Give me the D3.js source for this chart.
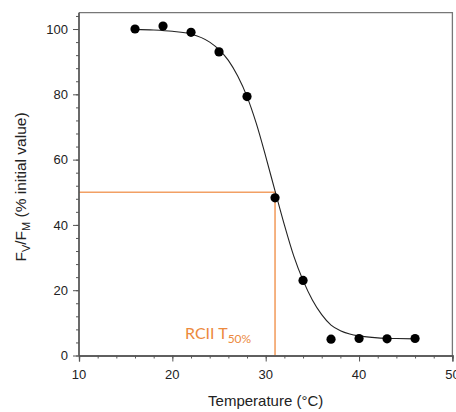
<!DOCTYPE html>
<html><head><meta charset="utf-8">
<script src="https://cdn.jsdelivr.net/npm/d3@7"></script>
<style>body{margin:0;background:#fff}svg{display:block}</style></head><body>
<svg id="c" width="456" height="412"></svg>
<script>
// Measured data points
const tempC = [16, 19, 22, 25, 28, 31, 34, 37, 40, 43, 46];
const fvfm  = [100, 100.9, 99, 93, 79.3, 48.3, 23, 5, 5.2, 5.1, 5.2];
// Fitted curve
const fitT = [16, 18, 20, 22, 24, 25, 26, 27, 28, 29, 30, 31, 32, 33, 34, 35, 36, 37, 38, 39, 40, 42, 44, 46];
const fitY = [99.9, 99.7, 99.3, 98.5, 96, 93.7, 90.4, 85.6, 79.3, 71, 61, 50.4, 40, 30.5, 23, 17, 12.5, 9.3, 7.6, 6.6, 6.0, 5.4, 5.2, 5.1];
// T50 marker
const t50 = 31, halfValue = 50;
const t50Label = "RCII T", t50Sub = "50%";
// Axes
const xTicks = [10, 20, 30, 40, 50];
const xMinor = d3.range(10, 50.1, 2);
const yTicks = [0, 20, 40, 60, 80, 100];
const yMinor = d3.range(0, 105, 4);
const xDomain = [10, 50], yDomain = [0, 105];

const svg = d3.select("#c");
const x = d3.scaleLinear().domain(xDomain).range([79, 452.4]);
const y = d3.scaleLinear().domain(yDomain).range([355.5, 12.7]);
const axisCol = "#555";
const orangeLine = "#F2A064", orangeText = "#EC8A3E";

// frame (top & right)
svg.append("path")
  .attr("d", `M${x(10)},${y(105)}H${x(50)}V${y(0)}`)
  .attr("fill", "none").attr("stroke", "#777").attr("stroke-width", 1.3);

// orange guide lines
svg.append("path")
  .attr("d", `M${x(10)},${y(halfValue)}H${x(t50)}V${y(0)}`)
  .attr("fill", "none").attr("stroke", orangeLine).attr("stroke-width", 1.6);

// ticks
const gx = svg.append("g").attr("transform", `translate(0,${y(0)})`);
gx.call(d3.axisBottom(x).tickValues(xMinor).tickSize(3).tickFormat(""));
gx.append("g").call(d3.axisBottom(x).tickValues(xTicks).tickSize(6).tickFormat(""));
const gy = svg.append("g").attr("transform", `translate(${x(10)},0)`);
gy.call(d3.axisLeft(y).tickValues(yMinor).tickSize(3).tickFormat(""));
gy.append("g").call(d3.axisLeft(y).tickValues(yTicks).tickSize(6).tickFormat(""));
svg.selectAll(".domain").attr("stroke", axisCol).attr("stroke-width", 1.3);
svg.selectAll(".tick line").attr("stroke", axisCol).attr("stroke-width", 1);
gy.selectAll(".domain").attr("d", `M0,${y(105)}V${y(0)}`);

// tick labels
svg.append("g").selectAll("text").data(xTicks).join("text")
  .attr("x", d => x(d)).attr("y", 379).attr("text-anchor", "middle")
  .attr("font-family", "Liberation Sans, Arial, sans-serif").attr("font-size", 13).attr("fill", "#222")
  .text(d => d);
svg.append("g").selectAll("text").data(yTicks).join("text")
  .attr("x", 68).attr("y", d => y(d)).attr("dy", "0.36em").attr("text-anchor", "end")
  .attr("font-family", "Liberation Sans, Arial, sans-serif").attr("font-size", 13).attr("fill", "#222")
  .text(d => d);

// axis titles
svg.append("text").attr("x", (x(10) + x(50)) / 2).attr("y", 406).attr("text-anchor", "middle")
  .attr("font-family", "Liberation Sans, Arial, sans-serif").attr("font-size", 15).attr("fill", "#222")
  .text("Temperature (°C)");
const yl = svg.append("text").attr("transform", "translate(26,187) rotate(-90)").attr("text-anchor", "middle")
  .attr("font-family", "Liberation Sans, Arial, sans-serif").attr("font-size", 15.5).attr("fill", "#222");
yl.append("tspan").text("F");
yl.append("tspan").attr("font-size", 11).attr("dy", 4).text("V");
yl.append("tspan").attr("dy", -4).text("/F");
yl.append("tspan").attr("font-size", 11).attr("dy", 4).text("M");
yl.append("tspan").attr("dy", -4).text(" (% initial value)");

// fitted curve
const pts = fitT.map((t, i) => [t, fitY[i]]);
svg.append("path").datum(pts)
  .attr("d", d3.line().x(d => x(d[0])).y(d => y(d[1])).curve(d3.curveMonotoneX))
  .attr("fill", "none").attr("stroke", "#222").attr("stroke-width", 1.1);

// data points
svg.append("g").selectAll("circle").data(tempC.map((t, i) => [t, fvfm[i]])).join("circle")
  .attr("cx", d => x(d[0])).attr("cy", d => y(d[1])).attr("r", 4.6).attr("fill", "#000");

// T50 label
const lab = svg.append("text").attr("x", 185).attr("y", 338.5)
  .attr("font-family", "Lato, Open Sans, sans-serif").attr("font-size", 16).attr("fill", orangeText);
lab.append("tspan").text(t50Label);
lab.append("tspan").attr("font-size", 12).attr("dy", 4.5).text(t50Sub);
</script>
</body></html>
